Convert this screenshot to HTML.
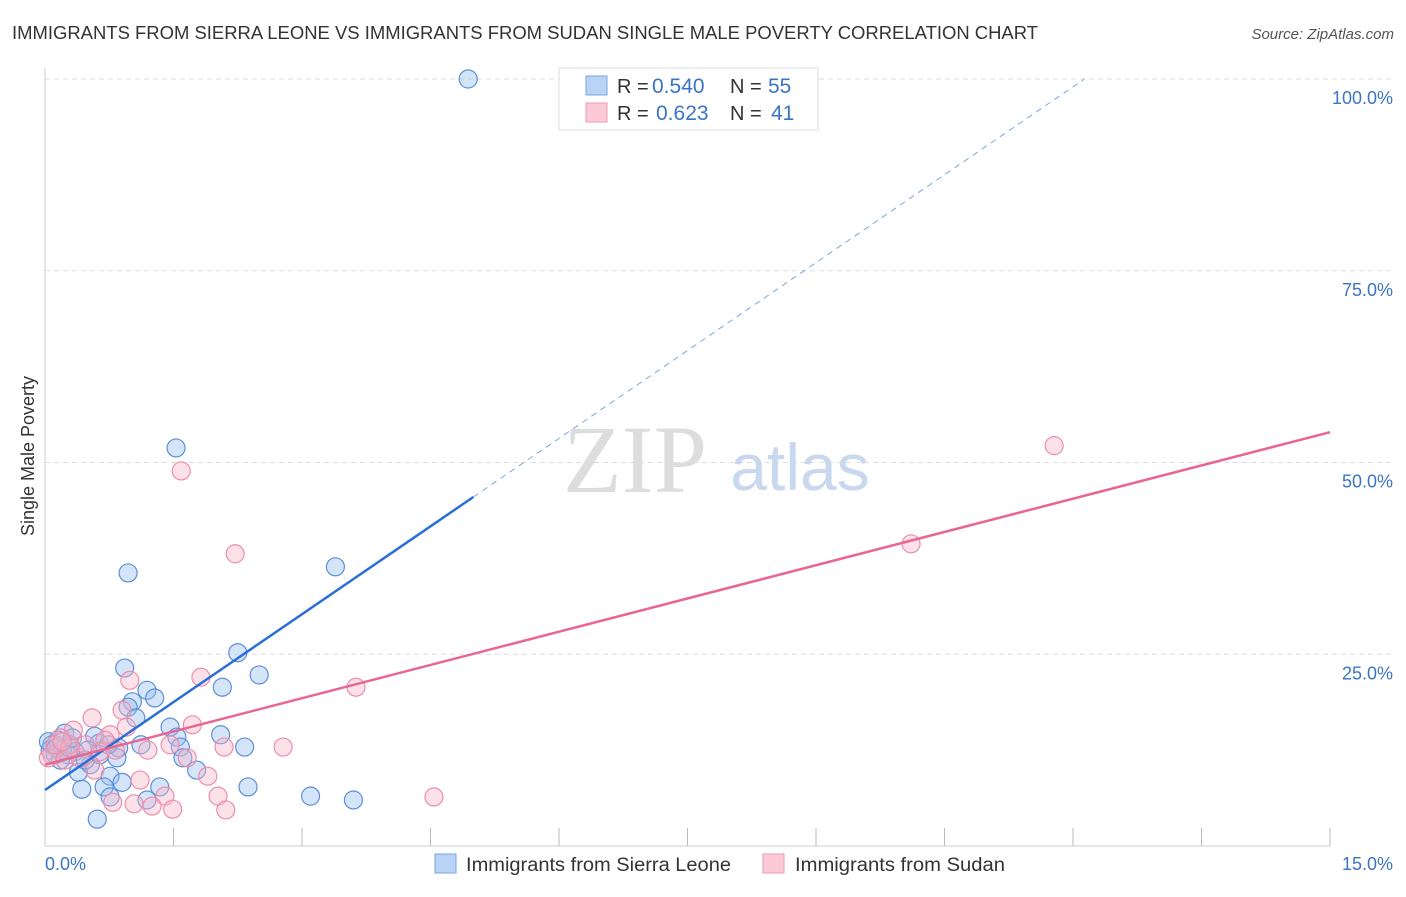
<!DOCTYPE html>
<html><head><meta charset="utf-8"><style>
body{margin:0;background:#fff;font-family:"Liberation Sans",sans-serif;}
</style></head><body>
<svg id="chart" width="1406" height="892" font-family="Liberation Sans, sans-serif">
<text x="12" y="39" font-size="18" fill="#333" textLength="1026" lengthAdjust="spacingAndGlyphs">IMMIGRANTS FROM SIERRA LEONE VS IMMIGRANTS FROM SUDAN SINGLE MALE POVERTY CORRELATION CHART</text>
<text x="1394" y="39" font-size="15" fill="#555" text-anchor="end" font-style="italic">Source: ZipAtlas.com</text>
<text x="34" y="456" font-size="18" fill="#333" text-anchor="middle" transform="rotate(-90 34 456)">Single Male Poverty</text>
<g id="grid"></g>
<g id="watermark">
<text x="635" y="492" font-size="96" fill="#ddd" font-family="Liberation Serif, serif" text-anchor="middle">ZIP</text>
<text x="800" y="490" font-size="66" fill="#c8d8ee" text-anchor="middle">atlas</text>
</g>
<g id="pts"></g>
<g id="lines"></g>
<g>
<rect x="559" y="68" width="259" height="62" fill="#fff" stroke="#ddd"/>
<rect x="586" y="76" width="21" height="19" fill="#b8d3f5" stroke="#7aa6e0"/>
<rect x="586" y="103" width="21" height="19" fill="#fcc9d7" stroke="#ef9ab5"/>
<text x="617" y="93" font-size="20" fill="#333">R =</text>
<text x="652" y="93" font-size="21" fill="#3a75c4">0.540</text>
<text x="730" y="93" font-size="20" fill="#333">N =</text>
<text x="768" y="93" font-size="21" fill="#3a75c4">55</text>
<text x="617" y="120" font-size="20" fill="#333">R =</text>
<text x="656" y="120" font-size="21" fill="#3a75c4">0.623</text>
<text x="730" y="120" font-size="20" fill="#333">N =</text>
<text x="771" y="120" font-size="21" fill="#3a75c4">41</text>
</g>
<g>
<rect x="435" y="854" width="21" height="19" fill="#b8d3f5" stroke="#7aa6e0"/>
<text x="466" y="871" font-size="19" fill="#333" textLength="265" lengthAdjust="spacingAndGlyphs">Immigrants from Sierra Leone</text>
<rect x="763" y="854" width="21" height="19" fill="#fcc9d7" stroke="#ef9ab5"/>
<text x="795" y="871" font-size="19" fill="#333" textLength="210" lengthAdjust="spacingAndGlyphs">Immigrants from Sudan</text>
</g>
</svg>
<script>
const blueX=[4.94,1.53,0.97,3.39,2.25,2.50,0.93,2.07,1.19,1.28,1.02,0.97,1.06,1.46,2.05,1.54,2.33,1.58,1.61,1.77,1.12,0.86,0.84,0.63,0.58,0.23,0.15,0.08,0.06,0.12,0.29,0.35,0.50,0.74,0.53,0.39,0.76,0.90,0.69,0.43,0.76,1.34,1.19,2.37,3.10,3.60,0.61,0.20,0.04,0.13,0.27,0.47,0.64,0.32,0.18];
const blueY=[100,51.9,35.6,36.4,25.2,22.3,23.2,20.7,20.3,19.3,18.8,18.1,16.7,15.5,14.5,14.2,12.9,12.9,11.5,9.9,13.2,12.8,11.5,13.4,14.3,14.7,13.8,13.2,12.5,11.9,13.2,12.3,12.5,13.2,10.6,9.6,9.1,8.3,7.7,7.4,6.4,7.7,6.0,7.7,6.5,6.0,3.5,12.5,13.6,12.8,11.9,11.2,11.9,14.1,11.2];
const pinkX=[11.78,10.11,2.22,1.59,3.63,1.82,0.99,0.90,0.55,0.33,1.72,1.46,1.66,2.09,2.78,0.95,0.76,0.70,1.20,1.11,1.90,2.02,2.11,1.40,1.25,1.04,1.49,0.79,4.54,0.18,0.08,0.04,0.23,0.41,0.58,0.12,0.29,0.47,0.64,0.82,0.20];
const pinkY=[52.2,39.4,38.1,48.9,20.7,22.0,21.6,17.7,16.7,15.1,15.8,13.2,11.5,12.9,12.9,15.5,14.5,13.8,12.5,8.6,9.1,6.5,4.7,6.5,5.2,5.5,4.8,5.7,6.4,14.1,11.9,11.5,11.2,11.5,9.9,13.2,12.8,13.2,12.3,12.5,13.6];
const blueFit=[7.3,7.64], pinkFit=[10.6,2.89];
const yTicks=[25,50,75,100], xTickLabels=["0.0%","15.0%"];
const X0=45,X1=1330,Y0=846,Y100=79;
const sx=v=>X0+(X1-X0)*v/15, sy=v=>Y0-(Y0-Y100)*v/100;
const NS="http://www.w3.org/2000/svg";
function mk(t,a,p){const e=document.createElementNS(NS,t);for(const k in a)e.setAttribute(k,a[k]);p.appendChild(e);return e;}
const g=document.getElementById('grid');
mk('line',{x1:X0,y1:68,x2:X0,y2:Y0,stroke:'#ccc'},g);
mk('line',{x1:X0,y1:Y0,x2:X1,y2:Y0,stroke:'#ccc'},g);
for(let i=1;i<=10;i++){const x=X0+(X1-X0)*i/10;const t=mk('line',{x1:x,y1:Y0-18,x2:x,y2:Y0,stroke:'#bbb'},g);

}
yTicks.forEach(v=>{const l=mk('line',{x1:X0,y1:sy(v),x2:1394,y2:sy(v),stroke:'#ddd','stroke-dasharray':'5,4'},g);


const t=mk('text',{x:1393,y:sy(v)+25,'font-size':18,fill:'#3a75c4','text-anchor':'end'},g);t.textContent=v.toFixed(1)+'%';

});
const xl=[[X0,'start'],[1393,'end']];
xTickLabels.forEach((s,i)=>{const t=mk('text',{x:xl[i][0],y:870,'font-size':18,fill:'#3a75c4','text-anchor':xl[i][1]},g);t.textContent=s;

});
const P=document.getElementById('pts');
blueX.forEach((x,i)=>{const c=mk('circle',{cx:sx(x),cy:sy(blueY[i]),r:9,fill:'rgba(150,190,240,0.4)',stroke:'#5b8fd8','stroke-width':1.2},P);

});
pinkX.forEach((x,i)=>{const c=mk('circle',{cx:sx(x),cy:sy(pinkY[i]),r:9,fill:'rgba(248,180,200,0.4)',stroke:'#ec8eab','stroke-width':1.2},P);

});
const L=document.getElementById('lines');
const bEnd=(100-blueFit[0])/blueFit[1];
let l=mk('line',{x1:sx(0),y1:sy(blueFit[0]),x2:sx(5),y2:sy(blueFit[0]+5*blueFit[1]),stroke:'#2a6fd6','stroke-width':2.5},L);


l=mk('line',{x1:sx(5),y1:sy(blueFit[0]+5*blueFit[1]),x2:sx(bEnd),y2:sy(100),stroke:'#7aa6e0','stroke-width':1,'stroke-dasharray':'6,5'},L);


l=mk('line',{x1:sx(0),y1:sy(pinkFit[0]),x2:sx(15),y2:sy(pinkFit[0]+15*pinkFit[1]),stroke:'#e8668f','stroke-width':2.5},L);


</script>
</body></html>
